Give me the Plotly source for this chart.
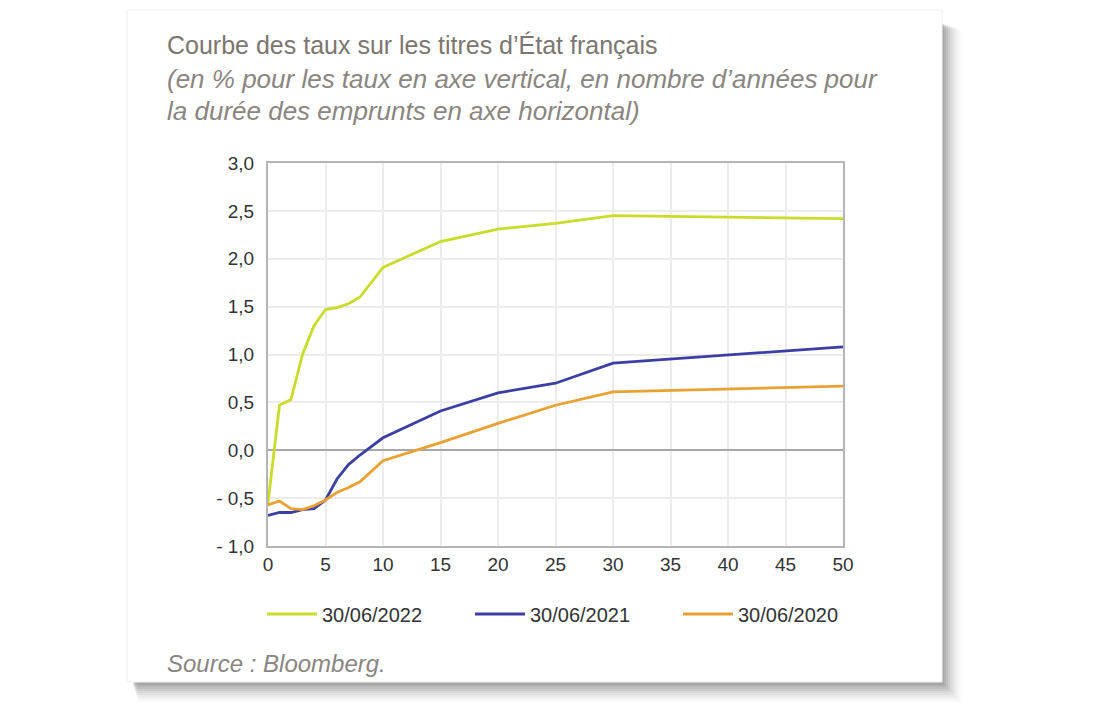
import plotly.graph_objects as go

# ---- data ----
maturities = [0, 1, 2, 3, 4, 5, 6, 7, 8, 10, 15, 20, 25, 30, 50]
taux_2022 = [-0.55, 0.47, 0.53, 1.00, 1.30, 1.47, 1.49, 1.53, 1.60, 1.91, 2.18, 2.31, 2.37, 2.45, 2.42]
taux_2021 = [-0.68, -0.65, -0.65, -0.62, -0.61, -0.52, -0.30, -0.15, -0.05, 0.13, 0.41, 0.60, 0.70, 0.91, 1.08]
taux_2020 = [-0.57, -0.53, -0.61, -0.62, -0.58, -0.52, -0.44, -0.39, -0.33, -0.11, 0.08, 0.28, 0.47, 0.61, 0.67]
series_names = ["30/06/2022", "30/06/2021", "30/06/2020"]
series_colors = ["#c9dc2a", "#3b3fa3", "#e9a232"]
y_tickvals = [-1.0, -0.5, 0.0, 0.5, 1.0, 1.5, 2.0, 2.5, 3.0]
y_ticktext = ["- 1,0", "- 0,5", "0,0", "0,5", "1,0", "1,5", "2,0", "2,5", "3,0"]
x_tickvals = [0, 5, 10, 15, 20, 25, 30, 35, 40, 45, 50]

W, H = 1100, 727
L, R, T, B = 268, 843, 163, 546
FONT = "Liberation Sans, Arial, sans-serif"

def px(x):
    return (x - L) / (R - L)

def py(y):
    return (B - y) / (B - T)

fig = go.Figure()
for name, ys, col in zip(series_names, [taux_2022, taux_2021, taux_2020], series_colors):
    fig.add_trace(go.Scatter(x=maturities, y=ys, mode="lines", name=name,
                             line=dict(color=col, width=2.8)))

shapes = []
# shadow
for i, op in enumerate([0.16, 0.14, 0.12, 0.10, 0.08, 0.06, 0.05, 0.04, 0.03, 0.02]):
    d = i * 2
    shapes.append(dict(type="rect", xref="paper", yref="paper", layer="below",
                       x0=px(127 + 6 + d * 0.3), x1=px(942 + 2 + d),
                       y0=py(10 + 14 + d * 0.3), y1=py(682 + 3 + d),
                       fillcolor=f"rgba(110,110,110,{op})", line=dict(width=0)))
# card
shapes.append(dict(type="rect", xref="paper", yref="paper", layer="below",
                   x0=px(127), x1=px(942), y0=py(10), y1=py(682),
                   fillcolor="white", line=dict(color="#f0f0f0", width=1)))

annotations = [
    dict(text="Courbe des taux sur les titres d\u2019\u00c9tat fran\u00e7ais", xref="paper", yref="paper",
         x=px(165), y=py(45), xanchor="left", yanchor="middle", showarrow=False,
         font=dict(family=FONT, size=25, color="#7b7670")),
    dict(text="<i>(en % pour les taux en axe vertical, en nombre d\u2019ann\u00e9es pour</i>", xref="paper", yref="paper",
         x=px(165), y=py(79), xanchor="left", yanchor="middle", showarrow=False,
         font=dict(family=FONT, size=26, color="#8a8580")),
    dict(text="<i>la dur\u00e9e des emprunts en axe horizontal)</i>", xref="paper", yref="paper",
         x=px(165), y=py(111), xanchor="left", yanchor="middle", showarrow=False,
         font=dict(family=FONT, size=26, color="#8a8580")),
    dict(text="<i>Source : Bloomberg.</i>", xref="paper", yref="paper",
         x=px(165), y=py(663), xanchor="left", yanchor="middle", showarrow=False,
         font=dict(family=FONT, size=24, color="#8a8580")),
]

fig.update_layout(
    width=W, height=H,
    margin=dict(l=L, r=W - R, t=T, b=H - B, pad=0),
    paper_bgcolor="white", plot_bgcolor="white",
    shapes=shapes, annotations=annotations,
    showlegend=True,
    legend=dict(orientation="h", x=px(262), y=py(614), xanchor="left", yanchor="middle",
                entrywidth=143, entrywidthmode="pixels", itemwidth=50,
                font=dict(family=FONT, size=20, color="#333333"), bgcolor="rgba(0,0,0,0)"),
    xaxis=dict(range=[0, 50], tickvals=x_tickvals, showgrid=True, gridcolor="#ececec", gridwidth=1.5,
               zeroline=False, showline=True, linecolor="#b5b5b5", linewidth=2, mirror=True,
               ticks="", tickfont=dict(family=FONT, size=19, color="#333333")),
    yaxis=dict(range=[-1.0, 3.0], tickvals=y_tickvals, ticktext=y_ticktext, showgrid=True,
               gridcolor="#ececec", gridwidth=1.5, zeroline=True, zerolinecolor="#a8a8a8", zerolinewidth=2,
               showline=True, linecolor="#b5b5b5", linewidth=2, mirror=True,
               ticks="", ticklabelstandoff=8, tickfont=dict(family=FONT, size=19, color="#333333")),
)

fig.write_html("out.html")
